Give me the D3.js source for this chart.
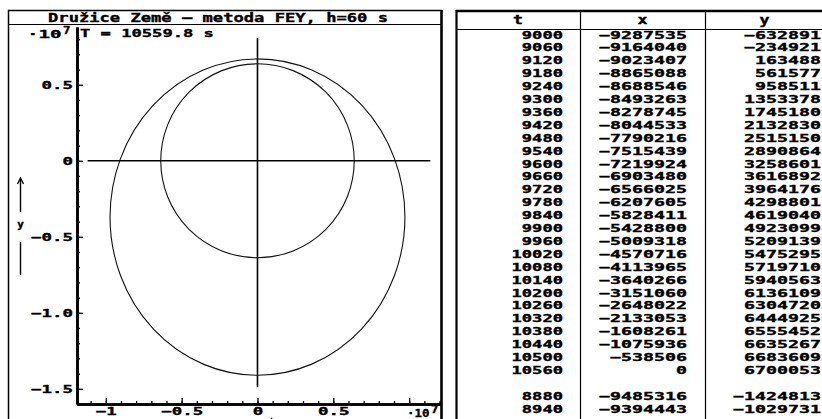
<!DOCTYPE html>
<html>
<head>
<meta charset="utf-8">
<script src="https://cdn.jsdelivr.net/npm/d3@7"></script>
<style>
  html, body { margin: 0; padding: 0; background: #fff; overflow: hidden; }
  svg { display: block; }
  text { font-family: "DejaVu Sans Mono", monospace; font-weight: bold; fill: #000;
         stroke: #000; stroke-width: 0.35; }
</style>
</head>
<body>
<svg id="chart" width="822" height="419"></svg>
<script>
// ---- Data -------------------------------------------------------------
// Integrated satellite positions: time [s], x [m], y [m]
const times = [9000, 9060, 9120, 9180, 9240, 9300, 9360, 9420, 9480, 9540,
               9600, 9660, 9720, 9780, 9840, 9900, 9960, 10020, 10080, 10140,
               10200, 10260, 10320, 10380, 10440, 10500, 10560];
const xValues = [-9287535, -9164040, -9023407, -8865088, -8688546, -8493263,
                 -8278745, -8044533, -7790216, -7515439, -7219924, -6903480,
                 -6566025, -6207605, -5828411, -5428800, -5009318, -4570716,
                 -4113965, -3640266, -3151060, -2648022, -2133053, -1608261,
                 -1075936, -538506, 0];
const yValues = [-632891, -234921, 163488, 561577, 958511, 1353378, 1745180,
                 2132830, 2515150, 2890864, 3258601, 3616892, 3964176, 4298801,
                 4619040, 4923099, 5209139, 5475295, 5719710, 5940563, 6136109,
                 6304720, 6444925, 6555452, 6635267, 6683609, 6700053];
// rows listed after the gap
const timesExtra = [8880, 8940];
const xValuesExtra = [-9485316, -9394443];
const yValuesExtra = [-1424813, -1029731];

const titleText = "Družice Země – metoda FEY, h=60 s";
const periodText = "T = 10559.8 s";
const columnNames = ["t", "x", "y"];

// Earth and orbit geometry [m]
const earthRadius = 6378000;
const orbitPerigeeY = 6700053;
const orbitApogeeY = -14107000;
const orbitSemiMinor = 9722000;

// Axes (units of 10^7 m)
const xDomain = [-1.19e7, 1.21e7];
const yDomain = [-1.6e7, 0.88e7];
const xMajorTicks = [-1e7, -0.5e7, 0, 0.5e7, 1e7];
const xTickLabels = ["−1", "−0.5", "0", "0.5", ""];
const yMajorTicks = [-1.5e7, -1e7, -0.5e7, 0, 0.5e7];
const yTickLabels = ["−1.5", "−1.0", "−0.5", "0", "0.5"];
const xMinorRange = [-1.1e7, 1.2e7];
const yMinorRange = [-1.6e7, 0.8e7];
const crossX = [-1.12e7, 1.14e7];
const crossY = [-1.49e7, 0.808e7];

// ---- Drawing ----------------------------------------------------------
const svg = d3.select("#chart");

// stretch monospace text to a fixed cell width
function cells(sel, charW) {
  sel.attr("textLength", function () { return this.textContent.length * charW; })
     .attr("lengthAdjust", "spacingAndGlyphs");
}

// left panel frame
svg.append("rect").attr("x", 8.5).attr("y", 10.5).attr("width", 433).attr("height", 440)
  .attr("fill", "none").attr("stroke", "#000").attr("stroke-width", 1.5);
svg.append("line").attr("x1", 441.5).attr("x2", 441.5).attr("y1", 10).attr("y2", 419)
  .attr("stroke", "#000").attr("stroke-width", 2.5);
svg.append("line").attr("x1", 8).attr("x2", 442).attr("y1", 24.5).attr("y2", 24.5)
  .attr("stroke", "#000").attr("stroke-width", 1);

svg.append("text").attr("x", 218).attr("y", 21.5).attr("text-anchor", "middle")
  .attr("font-size", 12.5).text(titleText).call(cells, 10.3);

const x = d3.scaleLinear().domain(xDomain).range([77, 441]);
const y = d3.scaleLinear().domain(yDomain).range([404, 27]);

// minor ticks every 0.1 × 10^7
const xMinor = d3.range(Math.round(xMinorRange[0] / 1e6), Math.round(xMinorRange[1] / 1e6) + 1).map(d => d * 1e6);
const yMinor = d3.range(Math.round(yMinorRange[0] / 1e6), Math.round(yMinorRange[1] / 1e6) + 1).map(d => d * 1e6);

const plot = svg.append("g");

// crossing lines through the origin
plot.append("line").attr("x1", x(crossX[0])).attr("x2", x(crossX[1]))
  .attr("y1", y(0)).attr("y2", y(0)).attr("stroke", "#000").attr("stroke-width", 1.3);
plot.append("line").attr("x1", x(0)).attr("x2", x(0))
  .attr("y1", y(crossY[0])).attr("y2", y(crossY[1])).attr("stroke", "#000").attr("stroke-width", 1.6);

// Earth
plot.append("ellipse")
  .attr("cx", x(0)).attr("cy", y(0))
  .attr("rx", x(earthRadius) - x(0)).attr("ry", y(0) - y(earthRadius))
  .attr("fill", "none").attr("stroke", "#111").attr("stroke-width", 1.1);

// orbit
const orbitCenterY = (orbitPerigeeY + orbitApogeeY) / 2;
const orbitSemiMajor = (orbitPerigeeY - orbitApogeeY) / 2;
plot.append("ellipse")
  .attr("cx", x(0)).attr("cy", y(orbitCenterY))
  .attr("rx", x(orbitSemiMinor) - x(0)).attr("ry", y(0) - y(orbitSemiMajor))
  .attr("fill", "none").attr("stroke", "#111").attr("stroke-width", 1.1);

// y axis
const yAxisMinor = d3.axisLeft(y).tickValues(yMinor).tickSize(-3).tickSizeOuter(0).tickFormat("");
const yAxisMajor = d3.axisLeft(y).tickValues(yMajorTicks).tickSize(-6).tickSizeOuter(0).tickPadding(4)
  .tickFormat((d, i) => yTickLabels[i]);
const gy1 = svg.append("g").attr("transform", "translate(77,0)").call(yAxisMinor);
const gy2 = svg.append("g").attr("transform", "translate(77,0)").call(yAxisMajor);

// x axis
const xAxisMinor = d3.axisBottom(x).tickValues(xMinor).tickSize(-3).tickSizeOuter(0).tickFormat("");
const xAxisMajor = d3.axisBottom(x).tickValues(xMajorTicks).tickSize(-6).tickSizeOuter(0).tickPadding(3)
  .tickFormat((d, i) => xTickLabels[i]);
const gx1 = svg.append("g").attr("transform", "translate(0,404)").call(xAxisMinor);
const gx2 = svg.append("g").attr("transform", "translate(0,404)").call(xAxisMajor);

[gy1, gy2, gx1, gx2].forEach(g => {
  g.selectAll(".tick line").attr("stroke", "#000").attr("stroke-width", 1.3);
  g.select(".domain").attr("stroke", "#000").attr("stroke-width", 2.6);
  g.selectAll("text").attr("font-family", null).attr("font-size", 10.5).attr("fill", "#000")
    .call(cells, 10.5);
});
gx2.selectAll("text").attr("dy", "0.72em");

// exponent labels: "·10" with a raised 7
function exponent(xPos, yPos, charW) {
  svg.append("text").attr("x", xPos).attr("y", yPos).attr("font-size", 10.5)
    .text("·10").call(cells, charW);
  svg.append("text").attr("x", xPos + 3 * charW + 1.5).attr("y", yPos - 4).attr("font-size", 10)
    .text("7").call(cells, 7.5);
}
exponent(27, 37.5, 11.5);
exponent(407, 417, 7.5);

svg.append("text").attr("x", 80).attr("y", 37).attr("font-size", 11)
  .text(periodText).call(cells, 10.3);

// axis name markers
const ax = 20.5;
svg.append("line").attr("x1", ax).attr("x2", ax).attr("y1", 179).attr("y2", 212).attr("stroke", "#000").attr("stroke-width", 1.4);
svg.append("path").attr("d", `M${ax - 3},${184} L${ax},${178} L${ax + 3},${184}`).attr("fill", "none").attr("stroke", "#000").attr("stroke-width", 1.3);
svg.append("text").attr("x", ax).attr("y", 228).attr("text-anchor", "middle").attr("font-size", 11).text("y");
svg.append("line").attr("x1", ax).attr("x2", ax).attr("y1", 242).attr("y2", 275).attr("stroke", "#000").attr("stroke-width", 1.4);

const axy = 424;
svg.append("text").attr("x", 222).attr("y", axy + 2).attr("text-anchor", "middle").attr("font-size", 11).text("x");
svg.append("line").attr("x1", 236).attr("x2", 277).attr("y1", axy).attr("y2", axy).attr("stroke", "#000").attr("stroke-width", 1.4);
svg.append("path").attr("d", `M271,${axy - 6} L277,${axy} L271,${axy + 6}`).attr("fill", "none").attr("stroke", "#000").attr("stroke-width", 1.3);

// ---- table --------------------------------------------------------------
const table = svg.append("g");
const colEdges = [456, 580, 705, 830];
table.append("line").attr("x1", 456).attr("x2", 822).attr("y1", 11).attr("y2", 11).attr("stroke", "#000").attr("stroke-width", 2.5);
table.append("line").attr("x1", 456.5).attr("x2", 456.5).attr("y1", 10).attr("y2", 419).attr("stroke", "#000").attr("stroke-width", 2.2);
table.append("line").attr("x1", 456).attr("x2", 822).attr("y1", 29.5).attr("y2", 29.5).attr("stroke", "#000").attr("stroke-width", 1.2);
[colEdges[1], colEdges[2]].forEach(cx =>
  table.append("line").attr("x1", cx + 0.5).attr("x2", cx + 0.5).attr("y1", 11).attr("y2", 419)
    .attr("stroke", "#000").attr("stroke-width", 1.2));

columnNames.forEach((name, i) => {
  table.append("text").attr("x", (colEdges[i] + colEdges[i + 1]) / 2 + (i === 2 ? -3 : 0)).attr("y", 24)
    .attr("text-anchor", "middle").attr("font-size", 12).text(name).call(cells, 10);
});

const fmt = d3.format("d");
const rows = times.map((t, i) => ({ t, x: xValues[i], y: yValues[i], slot: i }))
  .concat(timesExtra.map((t, i) => ({ t, x: xValuesExtra[i], y: yValuesExtra[i], slot: times.length + 1 + i })));
const rowY = d => 38.5 + d.slot * 12.9;
const rightEdges = [563, 687, 821];

rows.forEach(r => {
  [r.t, r.x, r.y].forEach((v, j) => {
    table.append("text").attr("x", rightEdges[j]).attr("y", rowY(r))
      .attr("text-anchor", "end").attr("font-size", 10.5).text(fmt(v))
      .call(cells, j === 0 ? 10.3 : 11);
  });
});
</script>
</body>
</html>
